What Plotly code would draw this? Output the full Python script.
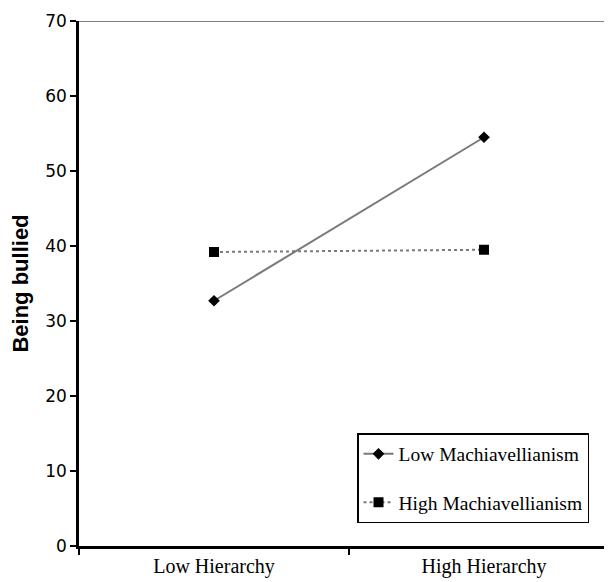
import plotly.graph_objects as go

categories = ["Low Hierarchy", "High Hierarchy"]
low_mach = [32.7, 54.5]
high_mach = [39.2, 39.5]
series_names = ["Low Machiavellianism", "High Machiavellianism"]
y_ticks = [0, 10, 20, 30, 40, 50, 60, 70]

fig = go.Figure()
fig.add_trace(go.Scatter(
    x=categories, y=low_mach, name=series_names[0], mode="lines+markers",
    line=dict(color="#7a7a7a", width=2),
    marker=dict(symbol="diamond", size=9, color="black"),
    legendgroup="a",
))
fig.add_trace(go.Scatter(
    x=categories, y=high_mach, name=series_names[1], mode="lines+markers",
    line=dict(color="#7a7a7a", width=2, dash="dot"),
    marker=dict(symbol="square", size=10, color="black"),
    legendgroup="b",
))

fig.add_shape(type="line", xref="paper", yref="y", x0=0, x1=1, y0=70, y1=70,
              line=dict(color="#808080", width=2))

fig.update_layout(
    width=604, height=574,
    margin=dict(l=71, r=0, t=13, b=36),
    plot_bgcolor="white", paper_bgcolor="white",
    xaxis=dict(
        type="category", range=[-0.5, 1.474], tickson="boundaries",
        showline=True, linecolor="black", linewidth=2.5,
        ticks="outside", ticklen=6, tickwidth=2, tickcolor="black",
        showgrid=False, zeroline=False,
        tickfont=dict(family="Liberation Serif, DejaVu Serif, serif", size=20, color="black"),
    ),
    yaxis=dict(
        range=[0, 70], tickvals=y_ticks,
        showline=True, linecolor="black", linewidth=2.5,
        ticks="outside", ticklen=6, tickwidth=2, tickcolor="black",
        showgrid=False, zeroline=False,
        tickfont=dict(family="DejaVu Sans, sans-serif", size=17, color="black"),
        title=dict(text="<b>Being bullied</b>", standoff=12,
                   font=dict(family="Liberation Sans, Arial, sans-serif", size=22, color="black")),
    ),
    showlegend=True,
    legend=dict(
        x=0.5216, y=0.215, xanchor="left", yanchor="top",
        bordercolor="black", borderwidth=1.5, bgcolor="white",
        font=dict(family="Liberation Serif, DejaVu Serif, serif", size=19.5, color="black"),
        traceorder="grouped", tracegroupgap=20,
        entrywidthmode="pixels", entrywidth=195,
    ),
)

fig.write_html("out.html")
